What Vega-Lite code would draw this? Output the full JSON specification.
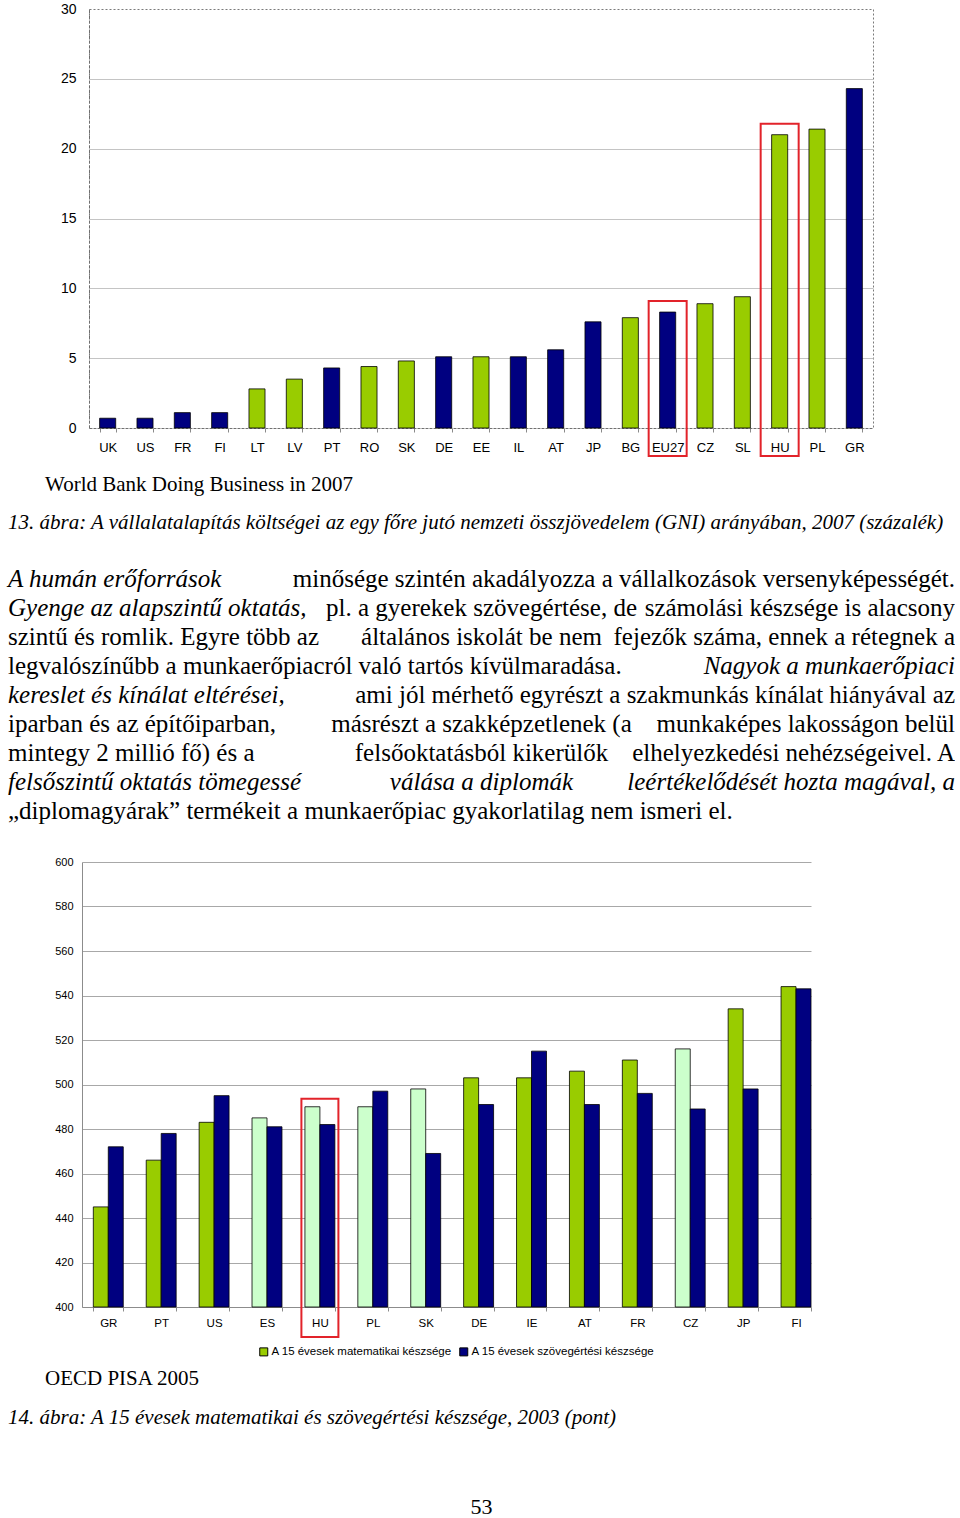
{
  "$schema": "https://vega.github.io/schema/vega-lite/v6.json",
  "background": "white",
  "padding": {"left": 8, "top": 1, "right": 0, "bottom": 0},
  "autosize": {"type": "pad"},
  "bounds": "flush",
  "spacing": 0,
  "resolve": {"scale": {"color": "independent"}, "legend": {"color": "independent"}},
  "config": {"view": {"stroke": null}, "font": "Liberation Sans"},
  "vconcat": [
    {
      "width": 784,
      "height": 419,
      "view": {"stroke": "#7a7a7a", "strokeDash": [2, 2]},
      "data": {"values": [
        {"country": "UK", "value": 0.7, "group": "egyéb", "highlight": false},
        {"country": "US", "value": 0.7, "group": "egyéb", "highlight": false},
        {"country": "FR", "value": 1.1, "group": "egyéb", "highlight": false},
        {"country": "FI", "value": 1.1, "group": "egyéb", "highlight": false},
        {"country": "LT", "value": 2.8, "group": "új tagállam", "highlight": false},
        {"country": "LV", "value": 3.5, "group": "új tagállam", "highlight": false},
        {"country": "PT", "value": 4.3, "group": "egyéb", "highlight": false},
        {"country": "RO", "value": 4.4, "group": "új tagállam", "highlight": false},
        {"country": "SK", "value": 4.8, "group": "új tagállam", "highlight": false},
        {"country": "DE", "value": 5.1, "group": "egyéb", "highlight": false},
        {"country": "EE", "value": 5.1, "group": "új tagállam", "highlight": false},
        {"country": "IL", "value": 5.1, "group": "egyéb", "highlight": false},
        {"country": "AT", "value": 5.6, "group": "egyéb", "highlight": false},
        {"country": "JP", "value": 7.6, "group": "egyéb", "highlight": false},
        {"country": "BG", "value": 7.9, "group": "új tagállam", "highlight": false},
        {"country": "EU27", "value": 8.3, "group": "egyéb", "highlight": true},
        {"country": "CZ", "value": 8.9, "group": "új tagállam", "highlight": false},
        {"country": "SL", "value": 9.4, "group": "új tagállam", "highlight": false},
        {"country": "HU", "value": 21.0, "group": "új tagállam", "highlight": true},
        {"country": "PL", "value": 21.4, "group": "új tagállam", "highlight": false},
        {"country": "GR", "value": 24.3, "group": "egyéb", "highlight": false}
      ]},
      "layer": [
        {
          "mark": {"type": "bar", "stroke": "#000000", "strokeWidth": 0.8},
          "encoding": {
            "x": {"field": "country", "type": "nominal", "sort": null, "title": null,
              "scale": {"paddingInner": 0.57, "paddingOuter": 0.285},
              "axis": {"labelAngle": 0, "labelFont": "Liberation Sans", "labelFontSize": 13, "labelColor": "#000000",
                "labelPadding": 9, "domainColor": "#6e6e6e", "domainDash": [2, 2], "tickBand": "extent",
                "tickSize": 4, "tickColor": "#8a8a8a", "grid": false}},
            "y": {"field": "value", "type": "quantitative", "title": null,
              "scale": {"domain": [0, 30]},
              "axis": {"values": [0, 5, 10, 15, 20, 25, 30], "labelFont": "Liberation Sans", "labelFontSize": 14,
                "labelColor": "#000000", "labelPadding": 13, "ticks": false, "tickSize": 0,
                "domainColor": "#6e6e6e", "domainDash": [3, 2], "grid": true, "gridColor": "#c4c4c4",
                "gridOpacity": {"condition": {"test": "datum.value === 0 || datum.value === 30", "value": 0}, "value": 1}}},
            "color": {"field": "group", "type": "nominal",
              "scale": {"domain": ["új tagállam", "egyéb"], "range": ["#99cc00", "#000080"]}, "legend": null}
          }
        },
        {
          "transform": [{"filter": "datum.highlight"}],
          "mark": {"type": "bar", "fill": "transparent", "stroke": "#e2232a", "strokeWidth": 2, "width": 38, "yOffset": -11},
          "encoding": {
            "x": {"field": "country", "type": "nominal", "sort": null, "title": null},
            "y": {"field": "value", "type": "quantitative", "title": null, "scale": {"domain": [0, 30]}},
            "y2": {"datum": -2}
          }
        }
      ]
    },
    {"width": 1, "height": 38, "data": {"values": []}, "mark": "point"},
    {
      "width": 784, "height": 38,
      "data": {"values": [{"part": "start", "text": "World Bank Doing Business in 2007"}]},
      "mark": {"type": "text", "align": "left", "font": "Liberation Serif", "fontSize": 21, "color": "#000000"},
      "encoding": {
        "x": {"field": "part", "type": "nominal", "scale": {"type": "point", "domain": ["start", "middle", "end"], "range": [-44, 903], "padding": 0}, "axis": null},
        "text": {"field": "text"}
      }
    },
    {
      "width": 784, "height": 38,
      "data": {"values": [{"part": "start", "text": "13. ábra: A vállalatalapítás költségei az egy főre jutó nemzeti összjövedelem (GNI) arányában, 2007 (százalék)"}]},
      "mark": {"type": "text", "align": "left", "font": "Liberation Serif", "fontSize": 21, "fontStyle": "italic", "color": "#000000"},
      "encoding": {
        "x": {"field": "part", "type": "nominal", "scale": {"type": "point", "domain": ["start", "middle", "end"], "range": [-81, 866], "padding": 0}, "axis": null},
        "text": {"field": "text"}
      }
    },
    {"width": 1, "height": 22, "data": {"values": []}, "mark": "point"},
    {
      "width": 784, "height": 261,
      "data": {"values": [
        {"line": 1, "part": "start", "emphasis": true, "text": "A humán erőforrások"},
        {"line": 1, "part": "end", "emphasis": false, "text": "minősége szintén akadályozza a vállalkozások versenyképességét."},
        {"line": 2, "part": "start", "emphasis": true, "text": "Gyenge az alapszintű oktatás,"},
        {"line": 2, "part": "middle", "emphasis": false, "text": "pl. a gyerekek szövegértése, de"},
        {"line": 2, "part": "end", "emphasis": false, "text": "számolási készsége is alacsony"},
        {"line": 3, "part": "start", "emphasis": false, "text": "szintű és romlik. Egyre több az"},
        {"line": 3, "part": "middle", "emphasis": false, "text": "általános iskolát be nem"},
        {"line": 3, "part": "end", "emphasis": false, "text": "fejezők száma, ennek a rétegnek a"},
        {"line": 4, "part": "start", "emphasis": false, "text": "legvalószínűbb a munkaerőpiacról való tartós kívülmaradása."},
        {"line": 4, "part": "end", "emphasis": true, "text": "Nagyok a munkaerőpiaci"},
        {"line": 5, "part": "start", "emphasis": true, "text": "kereslet és kínálat eltérései,"},
        {"line": 5, "part": "end", "emphasis": false, "text": "ami jól mérhető egyrészt a szakmunkás kínálat hiányával az"},
        {"line": 6, "part": "start", "emphasis": false, "text": "iparban és az építőiparban,"},
        {"line": 6, "part": "middle", "emphasis": false, "text": "másrészt a szakképzetlenek (a"},
        {"line": 6, "part": "end", "emphasis": false, "text": "munkaképes lakosságon belül"},
        {"line": 7, "part": "start", "emphasis": false, "text": "mintegy 2 millió fő) és a"},
        {"line": 7, "part": "middle", "emphasis": false, "text": "felsőoktatásból kikerülők"},
        {"line": 7, "part": "end", "emphasis": false, "text": "elhelyezkedési nehézségeivel. A"},
        {"line": 8, "part": "start", "emphasis": true, "text": "felsőszintű oktatás tömegessé"},
        {"line": 8, "part": "middle", "emphasis": true, "text": "válása a diplomák"},
        {"line": 8, "part": "end", "emphasis": true, "text": "leértékelődését hozta magával, a"},
        {"line": 9, "part": "start", "emphasis": false, "text": "„diplomagyárak” termékeit a munkaerőpiac gyakorlatilag nem ismeri el."}
      ]},
      "encoding": {
        "x": {"field": "part", "type": "nominal", "scale": {"type": "point", "domain": ["start", "middle", "end"], "range": [-81, 866], "padding": 0}, "axis": null},
        "y": {"field": "line", "type": "ordinal", "scale": {"type": "point", "padding": 0.5}, "axis": null},
        "text": {"field": "text"}
      },
      "layer": [
        {"transform": [{"filter": "datum.part === 'start' && !datum.emphasis"}],
          "mark": {"type": "text", "align": "left", "font": "Liberation Serif", "fontSize": 25, "color": "#000000"}},
        {"transform": [{"filter": "datum.part === 'start' && datum.emphasis"}],
          "mark": {"type": "text", "align": "left", "font": "Liberation Serif", "fontSize": 25, "fontStyle": "italic", "color": "#000000"}},
        {"transform": [{"filter": "datum.part === 'middle' && !datum.emphasis"}],
          "mark": {"type": "text", "align": "center", "font": "Liberation Serif", "fontSize": 25, "color": "#000000"}},
        {"transform": [{"filter": "datum.part === 'middle' && datum.emphasis"}],
          "mark": {"type": "text", "align": "center", "font": "Liberation Serif", "fontSize": 25, "fontStyle": "italic", "color": "#000000"}},
        {"transform": [{"filter": "datum.part === 'end' && !datum.emphasis"}],
          "mark": {"type": "text", "align": "right", "font": "Liberation Serif", "fontSize": 25, "color": "#000000"}},
        {"transform": [{"filter": "datum.part === 'end' && datum.emphasis"}],
          "mark": {"type": "text", "align": "right", "font": "Liberation Serif", "fontSize": 25, "fontStyle": "italic", "color": "#000000"}}
      ]
    },
    {"width": 1, "height": 37, "data": {"values": []}, "mark": "point"},
    {
      "width": 722,
      "height": 445,
      "data": {"values": [
        {"country": "GR", "measure": "matematika", "value": 445, "category": "A 15 évesek matematikai készsége", "highlight": false},
        {"country": "GR", "measure": "szövegértés", "value": 472, "category": "A 15 évesek szövegértési készsége", "highlight": false},
        {"country": "PT", "measure": "matematika", "value": 466, "category": "A 15 évesek matematikai készsége", "highlight": false},
        {"country": "PT", "measure": "szövegértés", "value": 478, "category": "A 15 évesek szövegértési készsége", "highlight": false},
        {"country": "US", "measure": "matematika", "value": 483, "category": "A 15 évesek matematikai készsége", "highlight": false},
        {"country": "US", "measure": "szövegértés", "value": 495, "category": "A 15 évesek szövegértési készsége", "highlight": false},
        {"country": "ES", "measure": "matematika", "value": 485, "category": "A 15 évesek matematikai készsége (kiemelt)", "highlight": false},
        {"country": "ES", "measure": "szövegértés", "value": 481, "category": "A 15 évesek szövegértési készsége", "highlight": false},
        {"country": "HU", "measure": "matematika", "value": 490, "category": "A 15 évesek matematikai készsége (kiemelt)", "highlight": true},
        {"country": "HU", "measure": "szövegértés", "value": 482, "category": "A 15 évesek szövegértési készsége", "highlight": false},
        {"country": "PL", "measure": "matematika", "value": 490, "category": "A 15 évesek matematikai készsége (kiemelt)", "highlight": false},
        {"country": "PL", "measure": "szövegértés", "value": 497, "category": "A 15 évesek szövegértési készsége", "highlight": false},
        {"country": "SK", "measure": "matematika", "value": 498, "category": "A 15 évesek matematikai készsége (kiemelt)", "highlight": false},
        {"country": "SK", "measure": "szövegértés", "value": 469, "category": "A 15 évesek szövegértési készsége", "highlight": false},
        {"country": "DE", "measure": "matematika", "value": 503, "category": "A 15 évesek matematikai készsége", "highlight": false},
        {"country": "DE", "measure": "szövegértés", "value": 491, "category": "A 15 évesek szövegértési készsége", "highlight": false},
        {"country": "IE", "measure": "matematika", "value": 503, "category": "A 15 évesek matematikai készsége", "highlight": false},
        {"country": "IE", "measure": "szövegértés", "value": 515, "category": "A 15 évesek szövegértési készsége", "highlight": false},
        {"country": "AT", "measure": "matematika", "value": 506, "category": "A 15 évesek matematikai készsége", "highlight": false},
        {"country": "AT", "measure": "szövegértés", "value": 491, "category": "A 15 évesek szövegértési készsége", "highlight": false},
        {"country": "FR", "measure": "matematika", "value": 511, "category": "A 15 évesek matematikai készsége", "highlight": false},
        {"country": "FR", "measure": "szövegértés", "value": 496, "category": "A 15 évesek szövegértési készsége", "highlight": false},
        {"country": "CZ", "measure": "matematika", "value": 516, "category": "A 15 évesek matematikai készsége (kiemelt)", "highlight": false},
        {"country": "CZ", "measure": "szövegértés", "value": 489, "category": "A 15 évesek szövegértési készsége", "highlight": false},
        {"country": "JP", "measure": "matematika", "value": 534, "category": "A 15 évesek matematikai készsége", "highlight": false},
        {"country": "JP", "measure": "szövegértés", "value": 498, "category": "A 15 évesek szövegértési készsége", "highlight": false},
        {"country": "FI", "measure": "matematika", "value": 544, "category": "A 15 évesek matematikai készsége", "highlight": false},
        {"country": "FI", "measure": "szövegértés", "value": 543, "category": "A 15 évesek szövegértési készsége", "highlight": false}
      ]},
      "layer": [
        {
          "mark": {"type": "bar", "stroke": "#000000", "strokeWidth": 0.8},
          "encoding": {
            "x": {"field": "country", "type": "nominal", "sort": null, "title": null,
              "scale": {"range": [-7, 722], "paddingInner": 0.434, "paddingOuter": 0.107, "align": 1},
              "axis": {"labelAngle": 0, "labelFont": "Liberation Sans", "labelFontSize": 11.5, "labelColor": "#000000",
                "labelPadding": 6, "domainColor": "#8c8c8c", "tickBand": "extent", "tickSize": 4, "tickColor": "#8c8c8c", "grid": false}},
            "xOffset": {"field": "measure", "type": "nominal", "sort": ["matematika", "szövegértés"],
              "scale": {"paddingInner": 0, "paddingOuter": 0}},
            "y": {"field": "value", "type": "quantitative", "title": null,
              "scale": {"domain": [400, 600]},
              "axis": {"values": [400, 420, 440, 460, 480, 500, 520, 540, 560, 580, 600], "labelFont": "Liberation Sans",
                "labelFontSize": 11, "labelColor": "#000000", "labelPadding": 9, "ticks": false, "tickSize": 0, "offset": 7,
                "domainColor": "#8c8c8c", "grid": true, "gridColor": "#a8a8a8"}},
            "y2": {"datum": 400},
            "color": {"field": "category", "type": "nominal",
              "scale": {"domain": ["A 15 évesek matematikai készsége", "A 15 évesek szövegértési készsége", "A 15 évesek matematikai készsége (kiemelt)"],
                "range": ["#99cc00", "#000080", "#ccffcc"]},
              "legend": {"values": ["A 15 évesek matematikai készsége", "A 15 évesek szövegértési készsége"],
                "orient": "none", "legendX": 169, "legendY": 484, "direction": "horizontal", "title": null,
                "symbolType": "square", "symbolSize": 64, "symbolStrokeColor": "#000000", "symbolStrokeWidth": 1,
                "labelFont": "Liberation Sans", "labelFontSize": 11.5, "labelColor": "#000000", "labelLimit": 400,
                "labelOffset": 2, "columnPadding": 5, "padding": 0}}
          }
        },
        {
          "transform": [{"filter": "datum.highlight"}],
          "mark": {"type": "bar", "fill": "transparent", "stroke": "#e2232a", "strokeWidth": 2, "width": 37, "yOffset": -8},
          "encoding": {
            "x": {"field": "country", "type": "nominal", "sort": null, "title": null},
            "y": {"field": "value", "type": "quantitative", "title": null, "scale": {"domain": [400, 600]}},
            "y2": {"datum": 386.5}
          }
        }
      ]
    },
    {"width": 1, "height": 53, "data": {"values": []}, "mark": "point"},
    {
      "width": 784, "height": 38,
      "data": {"values": [{"part": "start", "text": "OECD PISA 2005"}]},
      "mark": {"type": "text", "align": "left", "font": "Liberation Serif", "fontSize": 21, "color": "#000000"},
      "encoding": {
        "x": {"field": "part", "type": "nominal", "scale": {"type": "point", "domain": ["start", "middle", "end"], "range": [-44, 903], "padding": 0}, "axis": null},
        "text": {"field": "text"}
      }
    },
    {
      "width": 784, "height": 40,
      "data": {"values": [{"part": "start", "text": "14. ábra: A 15 évesek matematikai és szövegértési készsége, 2003 (pont)"}]},
      "mark": {"type": "text", "align": "left", "font": "Liberation Serif", "fontSize": 21, "fontStyle": "italic", "color": "#000000"},
      "encoding": {
        "x": {"field": "part", "type": "nominal", "scale": {"type": "point", "domain": ["start", "middle", "end"], "range": [-81, 866], "padding": 0}, "axis": null},
        "text": {"field": "text"}
      }
    },
    {"width": 1, "height": 59, "data": {"values": []}, "mark": "point"},
    {
      "width": 784, "height": 20,
      "data": {"values": [{"part": "middle", "text": "53"}]},
      "mark": {"type": "text", "align": "center", "font": "Liberation Serif", "fontSize": 22, "color": "#000000"},
      "encoding": {
        "x": {"field": "part", "type": "nominal", "scale": {"type": "point", "domain": ["start", "middle", "end"], "range": [-81, 866], "padding": 0}, "axis": null},
        "text": {"field": "text"}
      }
    }
  ]
}
